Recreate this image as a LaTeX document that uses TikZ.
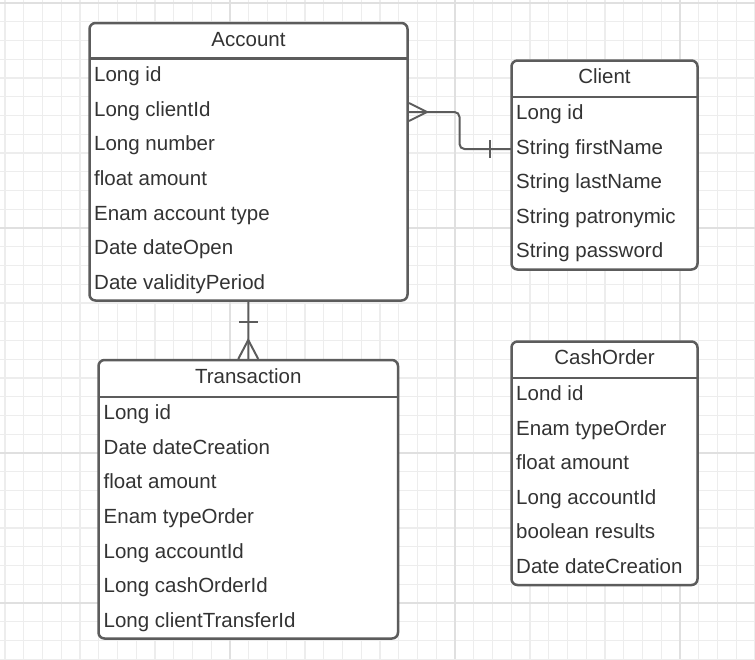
\documentclass[tikz,border=0pt]{standalone}
\usepackage{fontspec}
\setmainfont{Liberation Sans}
\usetikzlibrary{calc}
\definecolor{linec}{HTML}{5C5C5C}
\definecolor{txtc}{HTML}{333333}
\definecolor{gridminor}{HTML}{EDEDED}
\definecolor{gridmajor}{HTML}{E0E0E0}
\tikzset{
  entity/.style={draw=linec, line width=2.5pt, rounded corners=6pt, fill=white, outer sep=0pt, inner sep=0pt},
  hdr/.style={draw=linec, line width=2.5pt},
  row/.style={anchor=base west, inner sep=0pt, text=txtc, font=\fontsize{20.5}{24}\selectfont},
  ttl/.style={anchor=base, inner sep=0pt, text=txtc, font=\fontsize{20.5}{24}\selectfont},
  conn/.style={draw=linec, line width=2pt},
}
\begin{document}
\begin{tikzpicture}[x=1pt,y=-1pt]
\useasboundingbox (0,0) rectangle (755,659);
\fill[white] (0,0) rectangle (755,659);
% grid
\foreach \k in {0,...,40} {
  \draw[gridminor, line width=1.2pt] ({5+18.75*\k},0) -- ({5+18.75*\k},659);
  \draw[gridminor, line width=1.2pt] (0,{3+18.75*\k}) -- (755,{3+18.75*\k});
}
\foreach \xx in {230,455,680} \draw[gridmajor, line width=1.6pt] (\xx,0) -- (\xx,659);
\foreach \yy in {3,228,453,603} \draw[gridmajor, line width=1.6pt] (0,\yy) -- (755,\yy);

% ---------- Account ----------
\node[entity, minimum width=318pt, minimum height=277.5pt] (account) at (248.5,161.75) {};
\draw[hdr] ($(account.north west)+(0,35.5)$) -- ($(account.north east)+(0,35.5)$);
\node[ttl] (acct) at (248.5,46.5) {Account};
\foreach \t [count=\i from 0] in {Long id,Long clientId,Long number,float amount,Enam account type,Date dateOpen,Date validityPeriod}
  \node[row] (acc\i) at (94,{81.5+34.67*\i}) {\t};

% ---------- Client ----------
\node[entity, minimum width=186pt, minimum height=209pt] (client) at (604.5,165) {};
\draw[hdr] ($(client.north west)+(0,36.5)$) -- ($(client.north east)+(0,36.5)$);
\node[ttl] (clit) at (604.5,83.5) {Client};
\foreach \t [count=\i from 0] in {Long id,String firstName,String lastName,String patronymic,String password}
  \node[row] (cli\i) at (516,{119.5+34.55*\i}) {\t};

% ---------- Transaction ----------
\node[entity, minimum width=299.5pt, minimum height=278.5pt] (trans) at (248.25,499.25) {};
\draw[hdr] ($(trans.north west)+(0,37)$) -- ($(trans.north east)+(0,37)$);
\node[ttl] (trat) at (248.25,383.5) {Transaction};
\foreach \t [count=\i from 0] in {Long id,Date dateCreation,float amount,Enam typeOrder,Long accountId,Long cashOrderId,Long clientTransferId}
  \node[row] (tra\i) at (103.5,{419.5+34.67*\i}) {\t};

% ---------- CashOrder ----------
\node[entity, minimum width=186pt, minimum height=243.5pt] (cash) at (604.5,463.25) {};
\draw[hdr] ($(cash.north west)+(0,36.5)$) -- ($(cash.north east)+(0,36.5)$);
\node[ttl] (casht) at (604.5,364.5) {CashOrder};
\foreach \t [count=\i from 0] in {Lond id,Enam typeOrder,float amount,Long accountId,boolean results,Date dateCreation}
  \node[row] (cas\i) at (516,{400.5+34.6*\i}) {\t};

% ---------- Connectors ----------
\coordinate (pA) at ($(account.north east)+(0,89)$);
\coordinate (pB) at ($(client.north west)+(0,88.5)$);
\coordinate (pM) at ($(pA)!0.5!(pB)$);
\draw[conn, rounded corners=5pt] (pA) -- (pA -| pM) -- (pM |- pB) -- (pB);
% crow's foot (many) at Account
\draw[conn] ($(pA)+(1.5,-9)$) -- ($(pA)+(19.5,0)$) -- ($(pA)+(1.5,9)$);
% bar (one) at Client
\draw[conn] ($(pB)+(-21.5,-9)$) -- ($(pB)+(-21.5,9)$);

\draw[conn] (account.south) -- (trans.north);
% bar (one) at Account
\draw[conn] ($(account.south)+(-9.5,21.5)$) -- ($(account.south)+(9.5,21.5)$);
% crow's foot (many) at Transaction
\draw[conn] ($(trans.north)+(-10,-1)$) -- ($(trans.north)+(0,-20)$) -- ($(trans.north)+(10,-1)$);
\end{tikzpicture}
\end{document}
